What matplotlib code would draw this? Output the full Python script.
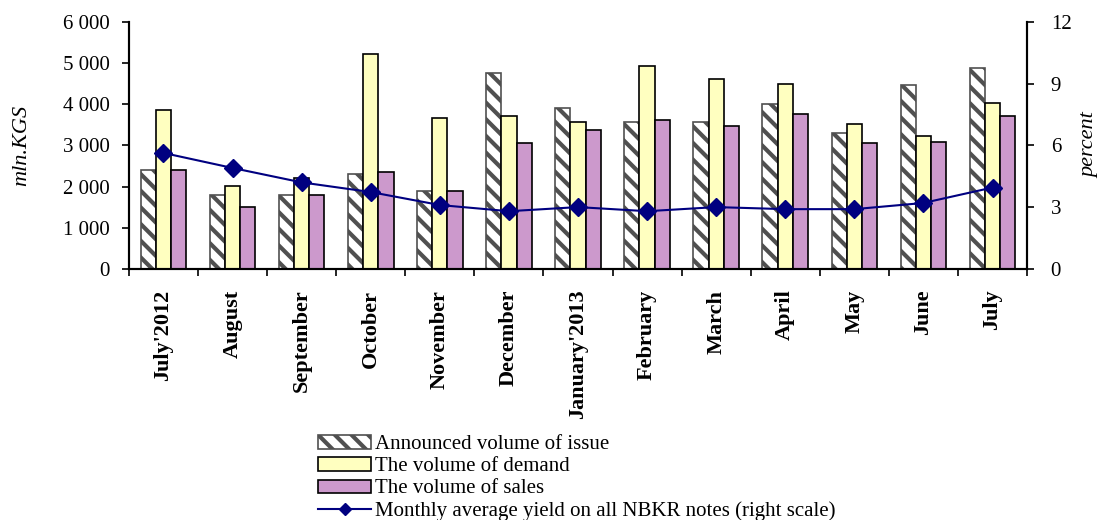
import numpy as np
import matplotlib
matplotlib.use('Agg')
import matplotlib.pyplot as plt
from matplotlib.ticker import FuncFormatter

# data
months = ["July'2012", 'August', 'September', 'October', 'November', 'December',
          "January'2013", 'February', 'March', 'April', 'May', 'June', 'July']
announced = [2400, 1800, 1800, 2300, 1890, 4760, 3900, 3570, 3570, 4000, 3300, 4460, 4880]
demand = [3860, 2010, 2210, 5220, 3670, 3710, 3570, 4930, 4600, 4500, 3520, 3230, 4030]
sales = [2400, 1500, 1800, 2350, 1890, 3060, 3380, 3620, 3470, 3760, 3060, 3090, 3710]
yield_pct = [5.63, 4.9, 4.2, 3.73, 3.1, 2.8, 3.0, 2.8, 3.0, 2.9, 2.9, 3.2, 3.95]

plt.rcParams['font.family'] = ['Liberation Serif', 'DejaVu Serif']
plt.rcParams['hatch.linewidth'] = 3.0

fig = plt.figure(figsize=(11.02, 5.20), dpi=100)
ax = fig.add_axes([0.117, 0.483, 0.815, 0.475])
ax2 = ax.twinx()

x = np.arange(len(months))
w = 0.22
b1 = ax.bar(x - w, announced, w, color='white', edgecolor='#505050', hatch='\\\\', linewidth=1.2,
            label='Announced volume of issue')
b2 = ax.bar(x, demand, w, color='#FFFFC0', edgecolor='black', linewidth=1.2,
            label='The volume of demand')
b3 = ax.bar(x + w, sales, w, color='#CC99CC', edgecolor='black', linewidth=1.2,
            label='The volume of sales')
ln, = ax2.plot(x, yield_pct, color='#000080', marker='D', markersize=9, linewidth=1.5,
               label='Monthly average yield on all NBKR notes (right scale)')

ax.set_xlim(-0.5, len(months) - 0.5)
ax.set_ylim(0, 6000)
ax.set_yticks(range(0, 6001, 1000))
ax.yaxis.set_major_formatter(FuncFormatter(lambda v, p: f'{int(v):,}'.replace(',', ' ')))
ax2.set_ylim(0, 12)
ax2.set_yticks([0, 3, 6, 9, 12])

ax.set_xticks(x)
ax.set_xticklabels(months, rotation=90, fontweight='bold', fontsize=16)
ax.set_xticks(np.arange(-0.5, len(months), 1), minor=True)
ax.tick_params(axis='x', which='major', length=0, pad=15)
ax.tick_params(axis='x', which='minor', length=5, width=1.2, direction='out')
ax.tick_params(axis='y', labelsize=15, length=5, width=1.2, direction='out', pad=9)
ax2.tick_params(axis='y', labelsize=15, length=5, width=1.2, direction='out', pad=12)

for a in (ax, ax2):
    a.spines['top'].set_visible(False)
    for s in ('left', 'right', 'bottom'):
        a.spines[s].set_linewidth(1.5)

# axis titles placed by hand so the right one stays inside the figure
fig.text(22 / 1102, 0.72, 'mln.KGS', fontstyle='italic', fontsize=16,
         rotation=90, ha='center', va='center')
fig.text(1090 / 1102, 0.72, 'percent', fontstyle='italic', fontsize=16,
         rotation=90, ha='center', va='center')

fig.legend(handles=[b1, b2, b3, ln], loc='upper left', bbox_to_anchor=(0.289, 0.163),
           frameon=False, fontsize=15, handlelength=2.5, handleheight=0.6, handletextpad=0.2,
           labelspacing=0.15, borderpad=0, borderaxespad=0, markerscale=0.7)

fig.savefig('out.png', dpi=100)
